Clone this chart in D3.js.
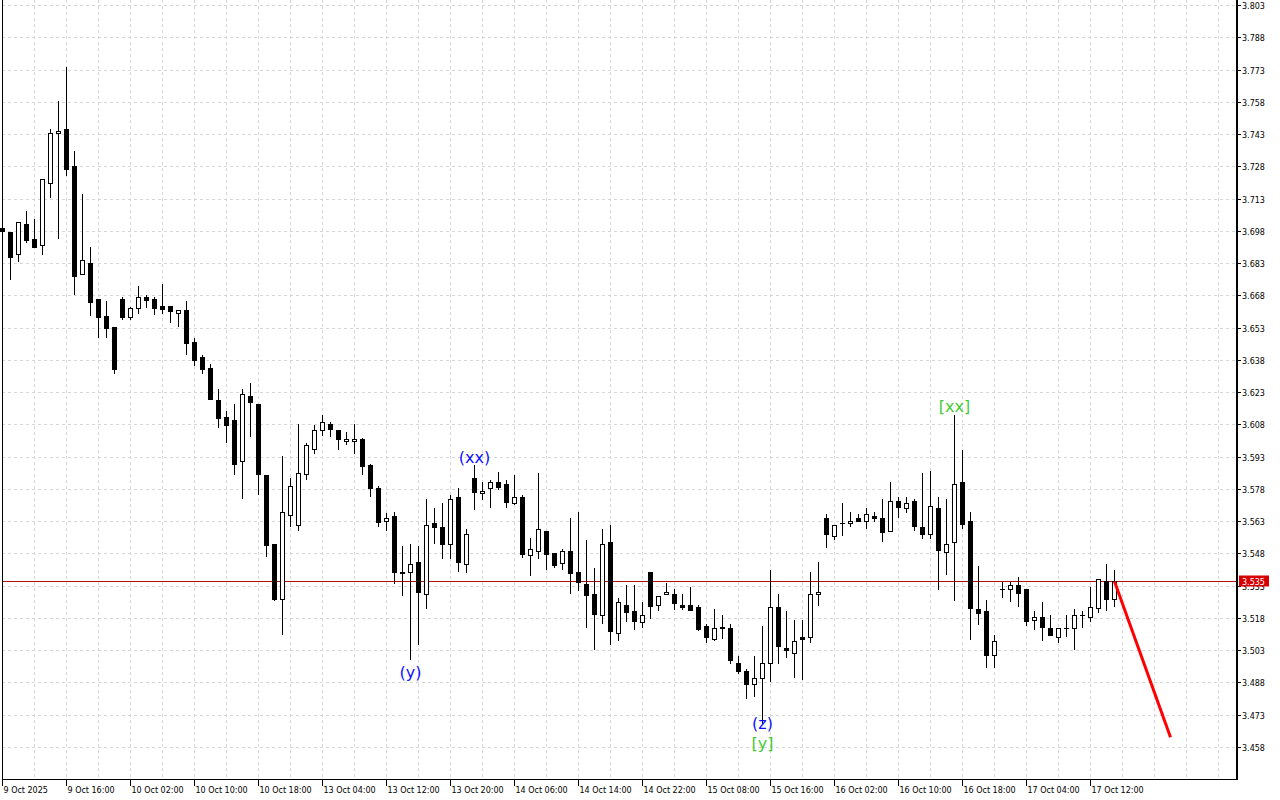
<!DOCTYPE html>
<html><head><meta charset="utf-8">
<script src="https://cdn.jsdelivr.net/npm/d3@7"></script>
<style>html,body{margin:0;padding:0;background:#fff;overflow:hidden}svg{display:block}</style>
</head><body><svg id="c" width="1280" height="800"></svg>
<script>
// ---- DATA (H1 bars) ----
const opens = [3.6993,3.6974,3.6872,3.7011,3.6942,3.6914,3.7202,3.7435,3.7453,3.7281,
3.6779,3.6830,3.6663,3.6584,3.6532,3.6663,3.6579,3.6621,3.6672,3.6663,
3.6630,3.6630,3.6600,3.6612,3.6463,3.6393,3.6342,3.6193,3.6114,3.6100,
3.5909,3.6212,3.6174,3.5844,3.5523,3.5268,3.5658,3.5612,3.5849,3.5965,
3.6054,3.6081,3.6054,3.6002,3.6002,3.6012,3.5891,3.5784,3.5630,3.5654,
3.5393,3.5393,3.5440,3.5291,3.5621,3.5602,3.5523,3.5742,3.5430,3.5830,
3.5761,3.5784,3.5812,3.5802,3.5714,3.5742,3.5472,3.5491,3.5584,3.5482,
3.5435,3.5491,3.5393,3.5337,3.5291,3.5193,3.5533,3.5110,3.5240,3.5212,
3.5161,3.5393,3.5240,3.5291,3.5291,3.5240,3.5240,3.5230,3.5142,3.5082,
3.5133,3.5133,3.4970,3.4933,3.4872,3.4900,3.4970,3.5230,3.5040,3.5017,
3.5091,3.5091,3.5291,3.5644,3.5561,3.5621,3.5621,3.5644,3.5630,3.5654,
3.5644,3.5584,3.5723,3.5691,3.5723,3.5602,3.5570,3.5691,3.5486,3.5533,
3.5812,3.5630,3.5221,3.5212,3.5007,3.5314,3.5314,3.5333,3.5314,3.5170,
3.5184,3.5133,3.5091,3.5133,3.5133,3.5193,3.5184,3.5226,3.5351,3.5268];
const highs = [3.7000,3.6974,3.7021,3.7072,3.7035,3.7221,3.7453,3.7583,3.7741,3.7351,
3.7151,3.6904,3.6663,3.6653,3.6532,3.6672,3.6625,3.6723,3.6681,3.6672,
3.6732,3.6630,3.6612,3.6653,3.6481,3.6402,3.6360,3.6244,3.6142,3.6174,
3.6244,3.6272,3.6174,3.5844,3.5523,3.5933,3.5830,3.6081,3.5993,3.6077,
3.6123,3.6091,3.6054,3.6044,3.6081,3.6016,3.5895,3.5793,3.5668,3.5672,
3.5514,3.5523,3.5514,3.5733,3.5691,3.5714,3.5751,3.5784,3.5593,3.5891,
3.5812,3.5821,3.5858,3.5821,3.5844,3.5751,3.5551,3.5854,3.5584,3.5482,
3.5500,3.5644,3.5672,3.5542,3.5412,3.5593,3.5612,3.5272,3.5333,3.5333,
3.5254,3.5393,3.5282,3.5342,3.5314,3.5291,3.5323,3.5240,3.5151,3.5221,
3.5193,3.5151,3.5003,3.4942,3.5003,3.5142,3.5403,3.5291,3.5212,3.5170,
3.5170,3.5393,3.5440,3.5663,3.5612,3.5714,3.5672,3.5663,3.5691,3.5672,
3.5733,3.5812,3.5742,3.5742,3.5733,3.5854,3.5863,3.5742,3.5733,3.6123,
3.5961,3.5672,3.5421,3.5263,3.5100,3.5347,3.5347,3.5370,3.5314,3.5212,
3.5254,3.5193,3.5133,3.5193,3.5221,3.5212,3.5323,3.5361,3.5430,3.5403];
const lows = [3.6975,3.6756,3.6839,3.6928,3.6904,3.6872,3.7137,3.6946,3.7239,3.6686,
3.6779,3.6588,3.6486,3.6486,3.6319,3.6570,3.6570,3.6598,3.6625,3.6591,
3.6598,3.6556,3.6537,3.6407,3.6356,3.6319,3.6198,3.6067,3.5998,3.5849,
3.5737,3.6026,3.5756,3.5468,3.5264,3.5105,3.5607,3.5589,3.5826,3.5947,
3.6030,3.6026,3.5965,3.5988,3.5947,3.5849,3.5747,3.5607,3.5589,3.5342,
3.5286,3.4989,3.5058,3.5226,3.5528,3.5458,3.5458,3.5398,3.5393,3.5686,
3.5733,3.5695,3.5779,3.5695,3.5710,3.5463,3.5379,3.5458,3.5407,3.5416,
3.5407,3.5296,3.5310,3.5137,3.5035,3.5156,3.5058,3.5077,3.5165,3.5128,
3.5137,3.5179,3.5217,3.5291,3.5221,3.5221,3.5217,3.5124,3.5068,3.5077,
3.5086,3.4970,3.4924,3.4807,3.4817,3.4691,3.4886,3.4970,3.4998,3.4905,
3.4896,3.5068,3.5240,3.5509,3.5547,3.5565,3.5607,3.5630,3.5598,3.5630,
3.5537,3.5584,3.5649,3.5672,3.5589,3.5551,3.5551,3.5314,3.5384,3.5263,
3.5598,3.5082,3.5151,3.4951,3.4951,3.5277,3.5258,3.5235,3.5147,3.5128,
3.5077,3.5100,3.5068,3.5096,3.5035,3.5137,3.5165,3.5207,3.5217,3.5235];
const closes = [3.6979,3.6858,3.7021,3.6937,3.6904,3.7221,3.7435,3.7444,3.7267,3.6770,
3.6844,3.6649,3.6579,3.6528,3.6337,3.6579,3.6621,3.6672,3.6658,3.6619,
3.6616,3.6607,3.6612,3.6458,3.6379,3.6337,3.6198,3.6109,3.6077,3.5895,
3.6221,3.6184,3.5849,3.5519,3.5268,3.5672,3.5793,3.5854,3.5984,3.6054,
3.6091,3.6058,3.6012,3.6012,3.6012,3.5886,3.5784,3.5626,3.5644,3.5393,
3.5391,3.5430,3.5300,3.5612,3.5602,3.5523,3.5733,3.5440,3.5570,3.5765,
3.5770,3.5812,3.5788,3.5719,3.5742,3.5477,3.5500,3.5593,3.5477,3.5426,
3.5491,3.5389,3.5347,3.5286,3.5198,3.5523,3.5119,3.5254,3.5207,3.5165,
3.5193,3.5235,3.5282,3.5300,3.5249,3.5230,3.5217,3.5128,3.5091,3.5133,
3.5137,3.4984,3.4933,3.4872,3.4900,3.4970,3.5230,3.5049,3.5031,3.5072,
3.5082,3.5291,3.5300,3.5570,3.5612,3.5621,3.5630,3.5630,3.5663,3.5644,
3.5579,3.5723,3.5695,3.5714,3.5607,3.5570,3.5700,3.5496,3.5523,3.5802,
3.5616,3.5226,3.5203,3.5007,3.5072,3.5314,3.5333,3.5296,3.5165,3.5184,
3.5137,3.5100,3.5133,3.5133,3.5193,3.5193,3.5230,3.5361,3.5268,3.5351];

const timeLabels = ["9 Oct 2025","9 Oct 16:00","10 Oct 02:00","10 Oct 10:00","10 Oct 18:00",
"13 Oct 04:00","13 Oct 12:00","13 Oct 20:00","14 Oct 06:00","14 Oct 14:00","14 Oct 22:00",
"15 Oct 08:00","15 Oct 16:00","16 Oct 02:00","16 Oct 10:00","16 Oct 18:00","17 Oct 04:00","17 Oct 12:00"];
const priceTicks = [3.803,3.788,3.773,3.758,3.743,3.728,3.713,3.698,3.683,3.668,3.653,3.638,
3.623,3.608,3.593,3.578,3.563,3.548,3.533,3.518,3.503,3.488,3.473,3.458];
const lastPrice = 3.535;
const forecastIdx = [139,146];
const forecastPrice = [3.535,3.4625];
const waveText  = ["(y)","(xx)","(z)","[y]","[xx]"];
const waveIdx   = [51,59,95,95,119];
const wavePrice = [3.4928,3.5928,3.4691,3.4598,3.6161];
const waveColor = ["#1010ff","#1010ff","#1010ff","#44cc33","#44cc33"];

// ---- LAYOUT ----
const L = 2, R = 1237, T = 0, B = 780;
const svg = d3.select("#c");
const x = d3.scaleLinear().domain([0,146]).range([2.5, 2.5+8*146]);
const y = d3.scaleLinear().domain([3.458,3.803]).range([747,5]);
const py = p => Math.round(y(p)) + 0.5;
const font = "DejaVu Sans, Tahoma, sans-serif";

svg.append("rect").attr("width",1280).attr("height",800).attr("fill","#fff");

// grid
const g = svg.append("g").attr("shape-rendering","crispEdges");
g.selectAll("line.h").data(priceTicks).join("line")
  .attr("x1",L).attr("x2",R-1).attr("y1",d=>py(d)).attr("y2",d=>py(d))
  .attr("stroke","#d6d6d6").attr("stroke-dasharray","3,3");
const vIdx = d3.range(4,153,4);
g.selectAll("line.v").data(vIdx).join("line")
  .attr("x1",d=>x(d)).attr("x2",d=>x(d)).attr("y1",T).attr("y2",B)
  .attr("stroke","#d6d6d6").attr("stroke-dasharray","3,3");

// current price line
g.append("line").attr("x1",L).attr("x2",R).attr("y1",py(lastPrice)).attr("y2",py(lastPrice))
  .attr("stroke","#b01010").attr("stroke-width",1);

// candles
const n = opens.length;
const cg = svg.append("g").attr("shape-rendering","crispEdges");
const idx = d3.range(n);
cg.selectAll("line.w").data(idx).join("line")
  .attr("x1",i=>x(i)).attr("x2",i=>x(i))
  .attr("y1",i=>Math.round(y(highs[i]))).attr("y2",i=>Math.round(y(lows[i]))+1)
  .attr("stroke","#000");
idx.forEach(i=>{
  const cx = x(i)-0.5;
  const top = Math.round(y(Math.max(opens[i],closes[i])));
  const bot = Math.round(y(Math.min(opens[i],closes[i])));
  if (closes[i] < opens[i]) {
    cg.append("rect").attr("x",cx-2).attr("y",top).attr("width",5).attr("height",Math.max(1,bot-top+1)).attr("fill","#000");
  } else if (bot-top < 1) {
    cg.append("rect").attr("x",cx-2).attr("y",top).attr("width",5).attr("height",1).attr("fill","#000");
  } else {
    cg.append("rect").attr("x",cx-1.5).attr("y",top+0.5).attr("width",4).attr("height",bot-top)
      .attr("fill","#fff").attr("stroke","#000").attr("stroke-width",1);
  }
});

// forecast line
svg.append("line").attr("x1",x(forecastIdx[0])).attr("y1",y(forecastPrice[0]))
  .attr("x2",x(forecastIdx[1])).attr("y2",y(forecastPrice[1]))
  .attr("stroke","#ff0000").attr("stroke-width",3).attr("stroke-linecap","butt");

// wave labels
svg.selectAll("text.wave").data(d3.range(waveText.length)).join("text")
  .attr("x",i=>x(waveIdx[i])).attr("y",i=>y(wavePrice[i]))
  .attr("text-anchor","middle").attr("dominant-baseline","central")
  .attr("font-family",font).attr("font-size",16).attr("fill",i=>waveColor[i])
  .text(i=>waveText[i]);

// frame
const f = svg.append("g").attr("shape-rendering","crispEdges");
f.append("line").attr("x1",L+0.5).attr("x2",L+0.5).attr("y1",T).attr("y2",B).attr("stroke","#000");
f.append("line").attr("x1",L).attr("x2",R).attr("y1",B-0.5).attr("y2",B-0.5).attr("stroke","#000");
f.append("line").attr("x1",R).attr("x2",R).attr("y1",T).attr("y2",B).attr("stroke","#000").attr("stroke-width",2);

// price axis
const pa = svg.append("g");
pa.selectAll("line").data(priceTicks).join("line").attr("shape-rendering","crispEdges")
  .attr("x1",R+1).attr("x2",R+4).attr("y1",d=>py(d)).attr("y2",d=>py(d)).attr("stroke","#000");
pa.selectAll("text").data(priceTicks).join("text")
  .attr("x",R+5).attr("y",d=>py(d)+1).attr("dominant-baseline","central")
  .attr("font-family",font).attr("font-size",8).attr("fill","#000")
  .text(d=>d.toFixed(3));

// last price box
svg.append("rect").attr("x",R+2).attr("y",py(lastPrice)-6).attr("width",30).attr("height",11).attr("fill","#d60000");
svg.append("text").attr("x",R+5).attr("y",py(lastPrice)+0.5).attr("dominant-baseline","central")
  .attr("font-family",font).attr("font-size",8).attr("fill","#fff").text(lastPrice.toFixed(3));

// time axis
const ta = svg.append("g");
const tIdx = timeLabels.map((d,i)=>i*8);
ta.selectAll("line").data(tIdx).join("line").attr("shape-rendering","crispEdges")
  .attr("x1",d=>x(d)).attr("x2",d=>x(d)).attr("y1",B).attr("y2",B+6).attr("stroke","#000");
ta.selectAll("text").data(tIdx).join("text")
  .attr("x",d=>x(d)+1).attr("y",B+13)
  .attr("font-family",font).attr("font-size",8).attr("fill","#000")
  .text((d,i)=>timeLabels[i]);
</script></body></html>
